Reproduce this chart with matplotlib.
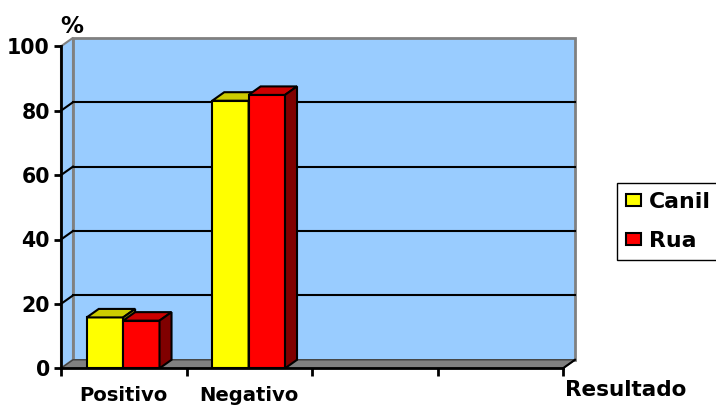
import matplotlib
matplotlib.use('Agg')
import matplotlib.pyplot as plt
from matplotlib.patches import Polygon, Patch
from matplotlib.lines import Line2D
from matplotlib.transforms import IdentityTransform

categories = ['Positivo', 'Negativo', '', '']
canil = [15.8, 83.1]
rua = [14.8, 84.9]
series = [('Canil', canil, '#FFFF00', '#CCCC00', '#999900'),
          ('Rua', rua, '#FF0000', '#CC0000', '#800000')]
y_ticks = [0, 20, 40, 60, 80, 100]

plt.rcParams['font.family'] = ['DejaVu Sans']
plt.rcParams['font.weight'] = 'bold'

fig = plt.figure(figsize=(7.16, 4.05), dpi=100)
ax = fig.add_axes([61 / 716, 1 - 368.3 / 405, 502 / 716, 322 / 405])
ax.set_xlim(0, len(categories))
ax.set_ylim(0, 100)
ax.set_autoscale_on(False)
ax.patch.set_visible(False)

# depth of the 3d box, in pixels
DX, DY = 12, 8.5


def px(x, y, d):
    p = ax.transData.transform((x, y))
    return (p[0] + d * DX, p[1] + d * DY)


def face(pts, fc, ec, lw, z):
    poly = Polygon([px(*p) for p in pts], closed=True, transform=IdentityTransform(),
                   facecolor=fc, edgecolor=ec, linewidth=lw, zorder=z, clip_on=False,
                   joinstyle='miter')
    ax.add_patch(poly)


def line(p0, p1, color, lw, z):
    a, b = px(*p0), px(*p1)
    ax.add_line(Line2D([a[0], b[0]], [a[1], b[1]], transform=IdentityTransform(),
                       color=color, linewidth=lw, zorder=z, clip_on=False))


n = len(categories)
# back wall, side wall and floor
face([(0, 0, 1), (n, 0, 1), (n, 100, 1), (0, 100, 1)], '#99CCFF', '#808080', 2, 1)
face([(0, 0, 0), (0, 0, 1), (0, 100, 1), (0, 100, 0)], '#99CCFF', '#808080', 1.5, 1)
for v in y_ticks[1:-1]:
    line((0, v, 1), (n, v, 1), 'black', 1.5, 1.5)
    line((0, v, 0), (0, v, 1), 'black', 1.5, 1.5)
face([(0, 0, 0), (n, 0, 0), (n, 0, 1), (0, 0, 1)], '#808080', '#404040', 1, 2)
line((n, 0, 0), (n, 0, 1), 'black', 1.5, 2.1)

# bars: front face, top and right side
width = 0.29
start = 0.205
z = 3
for i in range(len(canil)):
    for j, (name, vals, front, top, side) in enumerate(series):
        x0 = i + start + j * width
        x1 = x0 + width
        v = vals[i]
        ax.bar(x0, v, width, align='edge', color=front, edgecolor='black',
               linewidth=1.5, zorder=z)
        face([(x0, v, 0), (x1, v, 0), (x1, v, 1), (x0, v, 1)], top, 'black', 1.5, z + 0.1)
        face([(x1, 0, 0), (x1, 0, 1), (x1, v, 1), (x1, v, 0)], side, 'black', 1.5, z + 0.2)
        z += 1

for s in ['top', 'right']:
    ax.spines[s].set_visible(False)
for s in ['left', 'bottom']:
    ax.spines[s].set_linewidth(2)
    ax.spines[s].set_zorder(2.5)

ax.set_yticks(y_ticks)
ax.tick_params(axis='y', length=5, width=2, pad=3, labelsize=14.8)
ax.set_xticks(range(n + 1))
ax.set_xticklabels([])
ax.tick_params(axis='x', which='major', length=6, width=2)
ax.set_xticks([i + 0.5 for i in range(n)], minor=True)
ax.set_xticklabels(categories, minor=True, fontsize=14.1)
ax.tick_params(axis='x', which='minor', length=0, pad=12.5)

fig.text(72 / 716, 1 - 33 / 405, '%', ha='center', va='baseline', fontsize=16.5)
fig.text(565 / 716, 1 - 396 / 405, 'Resultado', ha='left', va='baseline', fontsize=15.5)

handles = [Patch(facecolor=s[2], edgecolor='black', linewidth=1.5) for s in series]
fig.legend(handles, [s[0] for s in series], loc='upper left',
           bbox_to_anchor=(617 / 716, 1 - 182.7 / 405), fancybox=False, framealpha=1,
           edgecolor='black', prop={'size': 15.8, 'weight': 'bold'}, handlelength=0.68,
           handleheight=0.5, handletextpad=0.35, borderpad=0.42, labelspacing=0.85,
           borderaxespad=0)

fig.savefig('out.png', dpi=100)
plt.close(fig)
